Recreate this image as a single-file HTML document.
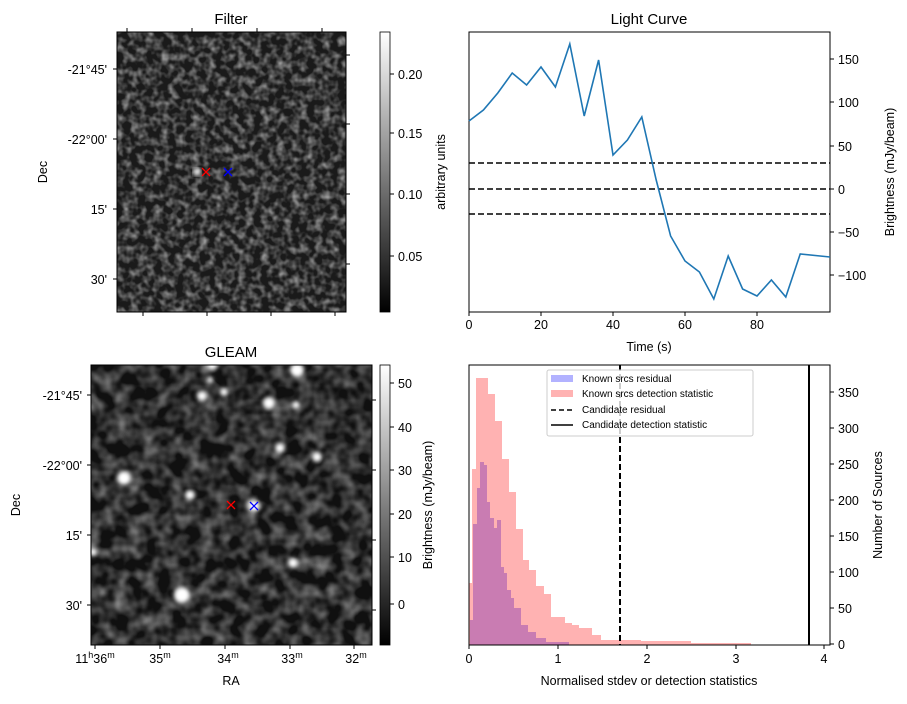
<!DOCTYPE html>
<html><head><meta charset="utf-8"><style>
body{margin:0;background:#fff}
svg text{font-family:"Liberation Sans",sans-serif;font-size:12.5px;fill:#000}
</style></head><body>
<svg width="907" height="699" viewBox="0 0 907 699" xmlns="http://www.w3.org/2000/svg">
<defs>
<filter id="n1" x="0" y="0" width="100%" height="100%">
<feTurbulence type="fractalNoise" baseFrequency="0.13" numOctaves="2" seed="3"/>
<feColorMatrix type="matrix" values="0 0 0 0 1  0 0 0 0 1  0 0 0 0 1  1.1 0 0 0 -0.43"/>
<feComposite in2="SourceGraphic" operator="in"/>
</filter>
<filter id="n2" x="0" y="0" width="100%" height="100%">
<feTurbulence type="fractalNoise" baseFrequency="0.07" numOctaves="2" seed="7"/>
<feColorMatrix type="matrix" values="0 0 0 0 1  0 0 0 0 1  0 0 0 0 1  0.9 0 0 0 -0.32"/>
<feComposite in2="SourceGraphic" operator="in"/>
</filter>
<filter id="bl"><feGaussianBlur stdDeviation="2"/></filter>
<linearGradient id="cb" x1="0" y1="1" x2="0" y2="0"><stop offset="0" stop-color="#000"/><stop offset="1" stop-color="#fff"/></linearGradient>
</defs>

<!-- Filter panel -->
<text x="231" y="24" text-anchor="middle" style="font-size:15px">Filter</text>
<rect x="117" y="32" width="229" height="280" fill="#1a1a1a"/>
<rect x="117" y="32" width="229" height="280" fill="#fff" filter="url(#n1)"/>
<ellipse cx="197" cy="172" rx="4" ry="4" fill="#eee" filter="url(#bl)"/>
<rect x="117" y="32" width="229" height="280" fill="none" stroke="#000"/>
<g stroke="#000"><path d="M143 312v4M207 312v4M271 312v4M335 312v4M127 32v-4M192 32v-4M257 32v-4M322 32v-4M117 69h-4M117 139h-4M117 209h-4M117 279h-4M346 55h4M346 124h4M346 194h4M346 264h4"/></g>
<g text-anchor="end"><text x="107" y="74">-21°45'</text><text x="107" y="144">-22°00'</text><text x="107" y="214">15'</text><text x="107" y="284">30'</text></g>
<text transform="translate(47,172) rotate(-90)" text-anchor="middle">Dec</text>
<g stroke="red" stroke-width="1.3"><path d="M202 168l8 8M210 168l-8 8"/></g>
<g stroke="blue" stroke-width="1.3"><path d="M224 168l8 8M232 168l-8 8"/></g>
<rect x="380" y="32" width="10" height="280" fill="url(#cb)" stroke="#000" stroke-width="0.8"/>
<g stroke="#000"><path d="M390 256h4M390 194h4M390 133h4M390 74h4"/></g>
<g><text x="398" y="261">0.05</text><text x="398" y="199">0.10</text><text x="398" y="138">0.15</text><text x="398" y="79">0.20</text></g>
<text transform="translate(445,172) rotate(-90)" text-anchor="middle">arbitrary units</text>

<!-- Light curve -->
<text x="649" y="24" text-anchor="middle" style="font-size:15px">Light Curve</text>
<rect x="469" y="32" width="361" height="280" fill="none" stroke="#000"/>
<g stroke="#000" stroke-dasharray="6,3" stroke-width="1.5"><path d="M469 163H830M469 189H830M469 214H830"/></g>
<polyline fill="none" stroke="#1f77b4" stroke-width="1.6" points="469,121 483.4,110 497.8,93 512.2,73 526.6,85 541,67 555.4,87 569.8,44 584.2,116 598.6,60 613,155 627.4,140 641.8,117 656.2,180 670.6,236 685,261 699.4,272 713.8,299 728.2,256 742.6,289 757,296 771.4,280 785.8,297 800.2,254 830,257"/>
<g stroke="#000"><path d="M469 312v4M541 312v4M613 312v4M685 312v4M757 312v4M830 59h4M830 102h4M830 146h4M830 189h4M830 232h4M830 275h4"/></g>
<g text-anchor="middle"><text x="469" y="329">0</text><text x="541" y="329">20</text><text x="613" y="329">40</text><text x="685" y="329">60</text><text x="757" y="329">80</text></g>
<text x="649" y="351" text-anchor="middle">Time (s)</text>
<g><text x="838" y="64">150</text><text x="838" y="107">100</text><text x="838" y="151">50</text><text x="838" y="194">0</text><text x="838" y="237">−50</text><text x="838" y="280">−100</text></g>
<text transform="translate(894,172) rotate(-90)" text-anchor="middle">Brightness (mJy/beam)</text>

<!-- GLEAM -->
<text x="231" y="357" text-anchor="middle" style="font-size:15px">GLEAM</text>
<rect x="91" y="365" width="281" height="280" fill="#101010"/>
<rect x="91" y="365" width="281" height="280" fill="#fff" filter="url(#n2)"/>
<g fill="#fff" filter="url(#bl)">
<circle cx="297" cy="370" r="7"/><circle cx="212" cy="365" r="5"/><circle cx="202" cy="396" r="5"/><circle cx="224" cy="392" r="4"/><circle cx="269" cy="403" r="6"/><circle cx="296" cy="405" r="4"/><circle cx="280" cy="448" r="5"/><circle cx="317" cy="457" r="5"/><circle cx="124" cy="478" r="7"/><circle cx="190" cy="495" r="5"/><circle cx="254" cy="506" r="6"/><circle cx="93" cy="552" r="4"/><circle cx="293" cy="563" r="5"/><circle cx="182" cy="595" r="8"/><circle cx="210" cy="380" r="3"/>
</g>
<rect x="91" y="365" width="281" height="280" fill="none" stroke="#000"/>
<g stroke="red" stroke-width="1.3"><path d="M227 501l8 8M235 501l-8 8"/></g>
<g stroke="blue" stroke-width="1.3"><path d="M250 502l8 8M258 502l-8 8"/></g>
<g stroke="#000"><path d="M95 645v4M160 645v4M225 645v4M290 645v4M354 645v4M91 395h-4M91 465h-4M91 535h-4M91 605h-4M372 400h4M372 470h4M372 540h4M372 610h4"/></g>
<g text-anchor="end"><text x="82" y="400">-21°45'</text><text x="82" y="470">-22°00'</text><text x="82" y="540">15'</text><text x="82" y="610">30'</text></g>
<text transform="translate(20,505) rotate(-90)" text-anchor="middle">Dec</text>
<g text-anchor="middle"><text x="95" y="663">11<tspan dy="-5" style="font-size:9px">h</tspan><tspan dy="5">36</tspan><tspan dy="-5" style="font-size:9px">m</tspan></text><text x="160" y="663">35<tspan dy="-5" style="font-size:9px">m</tspan></text><text x="228" y="663">34<tspan dy="-5" style="font-size:9px">m</tspan></text><text x="292" y="663">33<tspan dy="-5" style="font-size:9px">m</tspan></text><text x="356" y="663">32<tspan dy="-5" style="font-size:9px">m</tspan></text></g>
<text x="231" y="685" text-anchor="middle">RA</text>
<rect x="380" y="365" width="10" height="280" fill="url(#cb)" stroke="#000" stroke-width="0.8"/>
<g stroke="#000"><path d="M390 383h4M390 427h4M390 470h4M390 514h4M390 557h4M390 604h4"/></g>
<g><text x="398" y="388">50</text><text x="398" y="432">40</text><text x="398" y="475">30</text><text x="398" y="519">20</text><text x="398" y="562">10</text><text x="398" y="609">0</text></g>
<text transform="translate(432,505) rotate(-90)" text-anchor="middle">Brightness (mJy/beam)</text>

<!-- Histogram -->
<g fill="rgba(0,0,255,0.3)">
<rect x="470" y="620" width="3" height="25"/><rect x="473" y="524" width="4" height="121"/><rect x="477" y="488" width="3" height="157"/><rect x="480" y="462" width="4" height="183"/><rect x="484" y="465" width="3" height="180"/><rect x="487" y="502" width="3" height="143"/><rect x="490" y="518" width="4" height="127"/><rect x="494" y="528" width="3" height="117"/><rect x="497" y="520" width="4" height="125"/><rect x="501" y="567" width="3" height="78"/><rect x="504" y="573" width="3" height="72"/><rect x="507" y="590" width="4" height="55"/><rect x="511" y="598" width="3" height="47"/><rect x="514" y="608" width="7" height="37"/><rect x="521" y="625" width="7" height="20"/><rect x="528" y="632" width="8" height="13"/><rect x="536" y="638" width="10" height="7"/><rect x="546" y="642" width="23" height="3"/>
</g>
<g fill="rgba(255,0,0,0.3)">
<rect x="469" y="583" width="3" height="62"/><rect x="472" y="469" width="4" height="176"/><rect x="476" y="378" width="12" height="267"/><rect x="488" y="394" width="7" height="251"/><rect x="495" y="421" width="7" height="224"/><rect x="502" y="459" width="7" height="186"/><rect x="509" y="492" width="7" height="153"/><rect x="516" y="529" width="7" height="116"/><rect x="523" y="560" width="6" height="85"/><rect x="529" y="570" width="7" height="75"/><rect x="536" y="586" width="8" height="59"/><rect x="544" y="594" width="7" height="51"/><rect x="551" y="617" width="14" height="28"/><rect x="565" y="623" width="7" height="22"/><rect x="572" y="625" width="7" height="20"/><rect x="579" y="628" width="13" height="17"/><rect x="592" y="635" width="9" height="10"/><rect x="601" y="640" width="40" height="5"/><rect x="641" y="641" width="50" height="4"/><rect x="691" y="643" width="60" height="2"/>
</g>
<path d="M620 365V645" stroke="#000" stroke-width="2" stroke-dasharray="6,3"/>
<path d="M809 365V645" stroke="#000" stroke-width="2"/>
<rect x="469" y="365" width="361" height="280" fill="none" stroke="#000"/>
<g stroke="#000"><path d="M469 645v4M558 645v4M647 645v4M736 645v4M824 645v4M830 644h4M830 608h4M830 572h4M830 536h4M830 500h4M830 464h4M830 428h4M830 392h4"/></g>
<g text-anchor="middle"><text x="469" y="663">0</text><text x="558" y="663">1</text><text x="647" y="663">2</text><text x="736" y="663">3</text><text x="824" y="663">4</text></g>
<text x="649" y="685" text-anchor="middle">Normalised stdev or detection statistics</text>
<g><text x="838" y="649">0</text><text x="838" y="613">50</text><text x="838" y="577">100</text><text x="838" y="541">150</text><text x="838" y="505">200</text><text x="838" y="469">250</text><text x="838" y="433">300</text><text x="838" y="397">350</text></g>
<text transform="translate(882,505) rotate(-90)" text-anchor="middle">Number of Sources</text>
<rect x="547" y="370" width="206" height="66" fill="#fff" fill-opacity="0.8" stroke="#ccc" rx="2"/>
<rect x="551" y="375" width="22" height="7" fill="rgba(0,0,255,0.3)"/>
<rect x="551" y="390" width="22" height="7" fill="rgba(255,0,0,0.3)"/>
<path d="M551 410h22" stroke="#000" stroke-width="1.5" stroke-dasharray="5,3"/>
<path d="M551 425h22" stroke="#000" stroke-width="1.5"/>
<g><text x="582" y="382" style="font-size:10px">Known srcs residual</text><text x="582" y="397" style="font-size:10px">Known srcs detection statistic</text><text x="582" y="413" style="font-size:10px">Candidate residual</text><text x="582" y="428" style="font-size:10px">Candidate detection statistic</text></g>
</svg>
</body></html>
